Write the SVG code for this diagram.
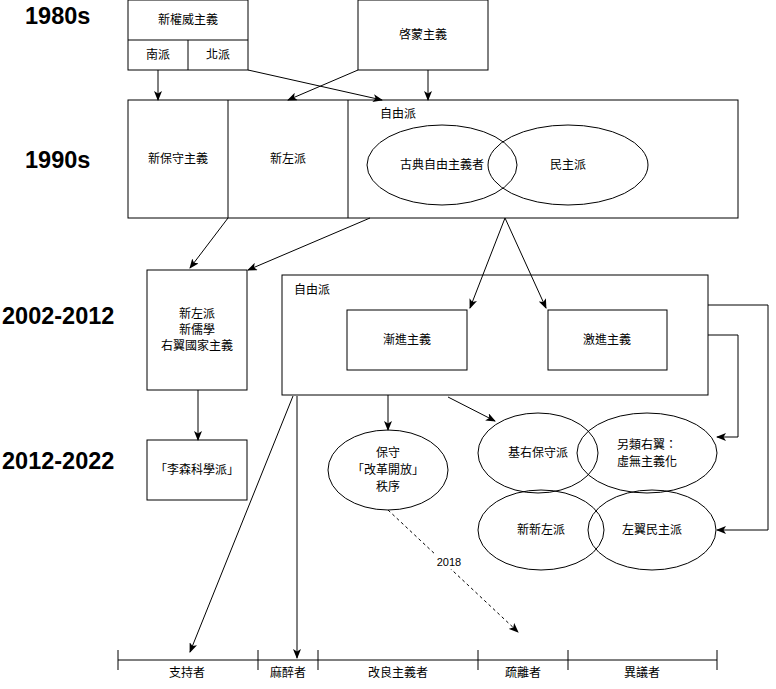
<svg xmlns="http://www.w3.org/2000/svg" width="776" height="689" viewBox="0 0 776 689">
<style>
.b{fill:#fff;stroke:#000;stroke-width:1}
.n{fill:none;stroke:#000;stroke-width:1}
.t{font-family:"Liberation Sans","Noto Sans CJK TC",sans-serif;font-size:12px;fill:#000;text-anchor:middle;dominant-baseline:central}
.y{font-family:"Liberation Sans",Arial,sans-serif;font-size:23.5px;font-weight:bold;fill:#000}
.c{fill:none;stroke:#000;stroke-width:1;marker-end:url(#a)}
</style>
<defs>
<marker id="a" viewBox="0 0 10 8" refX="9" refY="4" markerWidth="10" markerHeight="8" markerUnits="userSpaceOnUse" orient="auto">
<path d="M0,0 L10,4 L0,8 L2.5,4 Z" fill="#000"/>
</marker>
</defs>
<rect width="776" height="689" fill="#fff"/>
<g id="eras">
<text class="y" x="25" y="24">1980s</text>
<text class="y" x="25" y="168">1990s</text>
<text class="y" x="2" y="324">2002-2012</text>
<text class="y" x="2" y="469">2012-2022</text>
</g>
<g id="neoauth">
<rect class="b" x="128" y="0" width="120" height="70"/>
<line class="n" x1="128" y1="40" x2="248" y2="40"/>
<line class="n" x1="188" y1="40" x2="188" y2="70"/>
<text class="t" x="188" y="20">新權威主義</text>
<text class="t" x="158" y="55">南派</text>
<text class="t" x="218" y="55">北派</text>
</g>
<g id="enlight">
<rect class="b" x="358" y="0" width="130" height="70"/>
<text class="t" x="423" y="35">啓蒙主義</text>
</g>
<g id="nineties">
<rect class="b" x="128" y="100" width="610" height="118"/>
<line class="n" x1="228" y1="100" x2="228" y2="218"/>
<line class="n" x1="348" y1="100" x2="348" y2="218"/>
<text class="t" x="178" y="159">新保守主義</text>
<text class="t" x="288" y="159">新左派</text>
<text class="t" x="380" y="114" style="text-anchor:start">自由派</text>
<ellipse class="n" cx="442" cy="165" rx="75" ry="40"/>
<ellipse class="n" cx="568" cy="165" rx="80" ry="40"/>
<text class="t" x="442" y="165">古典自由主義者</text>
<text class="t" x="568" y="165">民主派</text>
</g>
<g id="newleft2">
<rect class="b" x="147" y="270" width="100" height="120"/>
<text class="t" x="197" y="314">新左派</text>
<text class="t" x="197" y="330">新儒學</text>
<text class="t" x="197" y="346">右翼國家主義</text>
</g>
<g id="liberal2">
<rect class="b" x="282" y="275" width="426" height="120"/>
<text class="t" x="294" y="290" style="text-anchor:start">自由派</text>
</g>
<g id="gradual">
<rect class="b" x="347" y="310" width="120" height="60"/>
<text class="t" x="407" y="340">漸進主義</text>
</g>
<g id="radical">
<rect class="b" x="548" y="310" width="119" height="60"/>
<text class="t" x="607" y="340">激進主義</text>
</g>
<g id="lysenko">
<rect class="b" x="147" y="440" width="100" height="60"/>
<text class="t" x="197" y="470">「李森科學派」</text>
</g>
<g id="conserv">
<ellipse class="b" cx="388" cy="470" rx="60" ry="40"/>
<text class="t" x="388" y="453">保守</text>
<text class="t" x="388" y="470">「改革開放」</text>
<text class="t" x="388" y="487">秩序</text>
</g>
<g id="basicright">
<ellipse class="n" cx="538" cy="453" rx="60" ry="40"/>
<text class="t" x="538" y="453">基右保守派</text>
</g>
<g id="altright">
<ellipse class="n" cx="647" cy="453" rx="70" ry="40"/>
<text class="t" x="647" y="445">另類右翼：</text>
<text class="t" x="647" y="462">虛無主義化</text>
</g>
<g id="newnewleft">
<ellipse class="n" cx="541" cy="530" rx="63" ry="40"/>
<text class="t" x="541" y="530">新新左派</text>
</g>
<g id="leftdem">
<ellipse class="n" cx="652" cy="530" rx="64" ry="40"/>
<text class="t" x="652" y="530">左翼民主派</text>
</g>
<g id="connectors">
<line class="c" x1="158" y1="70" x2="158" y2="100"/>
<line class="c" x1="428" y1="70" x2="428" y2="100"/>
<line class="c" x1="248" y1="70" x2="382" y2="100"/>
<line class="c" x1="358" y1="70" x2="288" y2="100"/>
<line class="c" x1="228" y1="218" x2="190" y2="268"/>
<line class="c" x1="370" y1="218" x2="248" y2="270"/>
<line class="c" x1="505" y1="218" x2="470" y2="308"/>
<line class="c" x1="505" y1="218" x2="546" y2="308"/>
<line class="c" x1="198" y1="390" x2="198" y2="440"/>
<line class="c" x1="388" y1="395" x2="388" y2="430"/>
<line class="c" x1="448" y1="397" x2="495" y2="421"/>
<polyline class="c" points="708,335 738,335 738,437 717,437"/>
<polyline class="c" points="708,305 768,305 768,530 717,530"/>
<line class="c" x1="293" y1="396" x2="190" y2="652"/>
<line class="c" x1="297" y1="396" x2="297" y2="658"/>
<line class="c" x1="388" y1="510" x2="518" y2="632" stroke-dasharray="3,3"/>
<rect x="434" y="554" width="30" height="15" fill="#fff"/>
<text class="t" x="449" y="562" style="font-size:11px">2018</text>
</g>
<g id="timeline">
<line class="n" x1="118" y1="660" x2="717" y2="660"/>
<line class="n" x1="118" y1="650" x2="118" y2="670"/>
<line class="n" x1="258" y1="650" x2="258" y2="670"/>
<line class="n" x1="318" y1="650" x2="318" y2="670"/>
<line class="n" x1="478" y1="650" x2="478" y2="670"/>
<line class="n" x1="568" y1="650" x2="568" y2="670"/>
<line class="n" x1="717" y1="650" x2="717" y2="670"/>
<text class="t" x="187" y="673">支持者</text>
<text class="t" x="288" y="673">麻醉者</text>
<text class="t" x="398" y="673">改良主義者</text>
<text class="t" x="523" y="673">疏離者</text>
<text class="t" x="642" y="673">異議者</text>
</g>
</svg>
